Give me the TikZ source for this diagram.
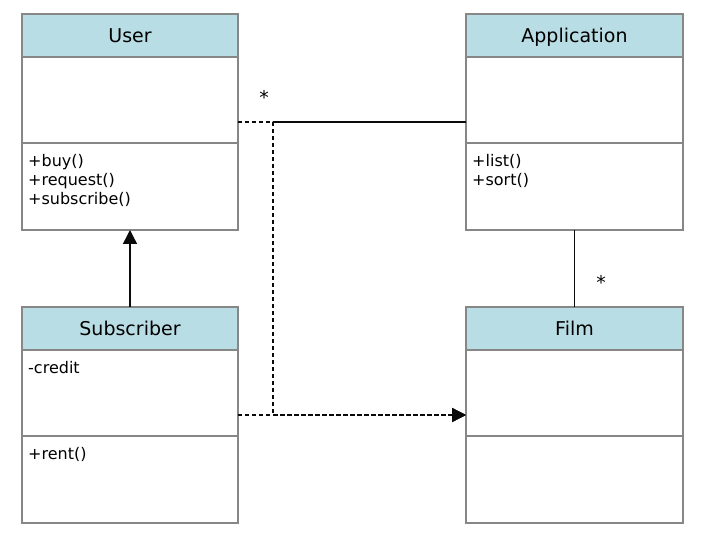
\documentclass[tikz,border=0pt]{standalone}
\usepackage{fontspec}
\setmainfont{DejaVu Sans}
\usetikzlibrary{arrows.meta}
\definecolor{hdrc}{RGB}{185,221,229}
\definecolor{bordc}{RGB}{135,135,135}
\definecolor{linec}{RGB}{10,10,10}
\begin{document}
\begin{tikzpicture}[x=1pt,y=-1pt,
  hdr/.style={draw=bordc, fill=hdrc, line width=1.2pt, minimum width=216pt, minimum height=43pt,
    anchor=north west, inner sep=0pt, outer sep=0pt, text height=14pt, text depth=0pt,
    font=\fontsize{19}{23}\selectfont},
  sect/.style={draw=bordc, fill=white, line width=1.2pt, minimum width=216pt,
    anchor=north west, inner sep=0pt, outer sep=0pt},
  members/.style={anchor=base west, inner sep=0pt, align=left, font=\fontsize{16}{19.3}\selectfont},
  mult/.style={inner sep=0pt, font=\fontsize{19}{22}\selectfont},
  assoc/.style={draw=linec, line width=1.4pt},
  dep/.style={draw=linec, line width=1.3pt, dash pattern=on 4pt off 3pt,
    -{Triangle[length=14pt,width=14pt]}},
  gen/.style={draw=linec, line width=1.4pt, -{Triangle[length=14pt,width=14pt]}}
]
\useasboundingbox[fill=white] (0,0) rectangle (709,553);

% User
\node[hdr] (userH) at (22,14) {User};
\node[sect, minimum height=86pt] (userA) at (22,57) {};
\node[sect, minimum height=87pt] (userM) at (22,143) {};
\node[members] (userMt) at (28,205) {+buy()\\+request()\\+subscribe()};

% Application
\node[hdr, minimum width=217pt] (appH) at (466,14) {Application};
\node[sect, minimum width=217pt, minimum height=86pt] (appA) at (466,57) {};
\node[sect, minimum width=217pt, minimum height=87pt] (appM) at (466,143) {};
\node[members] (appMt) at (472,186) {+list()\\+sort()};

% Subscriber
\node[hdr] (subH) at (22,307) {Subscriber};
\node[sect, minimum height=86pt] (subA) at (22,350) {};
\node[sect, minimum height=87pt] (subM) at (22,436) {};
\node[members] (subAt) at (28,373.5) {-credit};
\node[members] (subMt) at (28,459.5) {+rent()};

% Film
\node[hdr, minimum width=217pt] (filmH) at (466,307) {Film};
\node[sect, minimum width=217pt, minimum height=86pt] (filmA) at (466,350) {};
\node[sect, minimum width=217pt, minimum height=87pt] (filmM) at (466,436) {};

% connectors
\coordinate (j) at (273,122);
\coordinate (k) at (273,415);
\draw[dep] (userA.east |- j) -- (j) -- (k) -- (filmA.west |- k);
\draw[dep] (subA.east |- k) -- (filmA.west |- k);
\draw[assoc] (j) -- (appA.west |- j);
\draw[assoc] (appM.south) -- (filmH.north);
\draw[gen] (subH.north) -- (userM.south);

\node[mult] (m1) at (264,97.5) {*};
\node[mult] (m2) at (601,282.5) {*};
\end{tikzpicture}
\end{document}
